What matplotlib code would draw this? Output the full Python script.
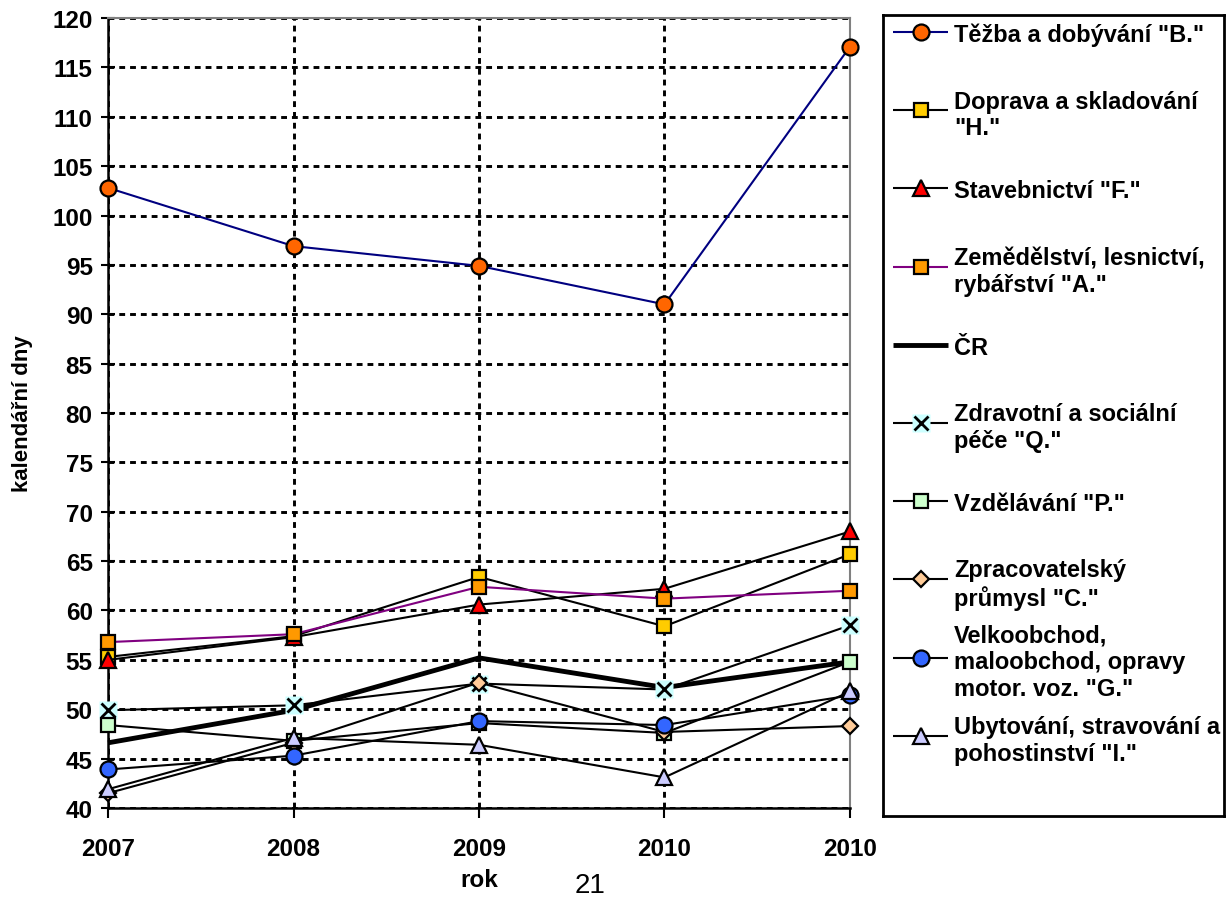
import matplotlib.pyplot as plt
import numpy as np

plt.rcParams['font.family'] = ['Liberation Sans', 'DejaVu Sans']
plt.rcParams['font.weight'] = 'bold'

years = ['2007', '2008', '2009', '2010', '2010']

tezba = [102.8, 96.9, 94.9, 91.0, 117.1]
doprava = [55.3, 57.4, 63.4, 58.4, 65.7]
stavebnictvi = [55.0, 57.3, 60.6, 62.2, 68.0]
zemedelstvi = [56.8, 57.6, 62.4, 61.2, 62.0]
cr = [46.6, 49.9, 55.2, 52.2, 54.8]
zdravotni = [49.9, 50.4, 52.6, 52.0, 58.5]
vzdelavani = [48.4, 46.8, 48.6, 47.6, 54.8]
zpracovatelsky = [41.5, 46.6, 52.7, 47.7, 48.3]
velkoobchod = [43.9, 45.3, 48.8, 48.4, 51.4]
ubytovani = [41.9, 47.1, 46.4, 43.1, 51.8]

labels = ['Těžba a dobývání "B."',
          'Doprava a skladování\n"H."',
          'Stavebnictví "F."',
          'Zemědělství, lesnictví,\nrybářství "A."',
          'ČR',
          'Zdravotní a sociální\npéče "Q."',
          'Vzdělávání "P."',
          'Zpracovatelský\nprůmysl "C."',
          'Velkoobchod,\nmaloobchod, opravy\nmotor. voz. "G."',
          'Ubytování, stravování a\npohostinství "I."']

# line colour, line width, marker, marker size, marker face
styles = [
    ('#000080', 1.5, 'o', 11.5, '#FF6600'),
    ('black', 1.5, 's', 10.5, '#FFCC00'),
    ('black', 1.5, '^', 12, '#FF0000'),
    ('#800080', 1.5, 's', 10.5, '#FF9900'),
    ('black', 3.5, None, 0, 'none'),
    ('black', 1.5, 'x', 9.5, '#CCFFFF'),
    ('black', 1.5, 's', 10.5, '#CCFFCC'),
    ('black', 1.5, 'D', 8, '#FFCC99'),
    ('black', 1.5, 'o', 11.5, '#3366FF'),
    ('black', 1.5, '^', 12, '#CCCCFF'),
]
series = [tezba, doprava, stavebnictvi, zemedelstvi, cr, zdravotni,
          vzdelavani, zpracovatelsky, velkoobchod, ubytovani]

fig = plt.figure(figsize=(12.28, 9.04), dpi=100)
ax = fig.add_axes([0.08795, 0.10509, 0.60423, 0.87389])
x = np.arange(len(years))


def draw(a, xs, ys, st, z, every=None):
    color, lw, m, ms, face = st
    a.plot(xs, ys, color=color, lw=lw, zorder=z, solid_capstyle='butt',
           clip_on=False)
    if m == 'x':
        # cross marker sits on a pale square
        a.plot(xs, ys, ls='none', marker='s', ms=ms + 3, mfc=face,
               mec='none', zorder=z + 0.1, clip_on=False, markevery=every)
        a.plot(xs, ys, ls='none', marker='x', ms=ms, mew=2, mec='black',
               zorder=z + 0.2, clip_on=False, markevery=every)
    elif m is not None:
        a.plot(xs, ys, ls='none', marker=m, ms=ms, mfc=face, mec='black',
               mew=1.6, zorder=z + 0.1, clip_on=False, markevery=every)


for i, (ys, st) in enumerate(zip(series, styles)):
    draw(ax, x, ys, st, 3 + i)

ax.set_xlim(0, 4)
ax.set_ylim(40, 120)
ax.set_xticks(x)
ax.set_xticklabels(years)
ax.set_yticks(np.arange(40, 121, 5))
ax.tick_params(axis='y', direction='inout', length=10, width=1.5,
               labelsize=17.5, pad=6)
ax.tick_params(axis='x', direction='out', length=7, width=1.5,
               labelsize=17.5, pad=14)
for lab in ax.get_xticklabels() + ax.get_yticklabels():
    lab.set_fontweight('bold')

ax.grid(True, color='black', lw=2.1, ls=(0, (2.0, 1.7)), zorder=1)
ax.spines['left'].set_linewidth(1.8)
ax.spines['bottom'].set_linewidth(1.8)
ax.spines['top'].set_color('#808080')
ax.spines['right'].set_color('#808080')
ax.spines['top'].set_linewidth(1.5)
ax.spines['right'].set_linewidth(1.5)

ax.set_xlabel('rok', fontsize=17.5, fontweight='bold', labelpad=6)
ax.set_ylabel('kalendářní dny', fontsize=16, fontweight='bold', labelpad=14)

fig.text(0.4805, 0.02, '21', fontsize=20, fontweight='normal',
         ha='center', va='center')

# legend box drawn in its own axes, pixel units from top-left corner
lax = fig.add_axes([0.7191, 0.09624, 0.2777, 0.8861])
lax.set_xlim(0, 341)
lax.set_ylim(801, 0)
lax.set_xticks([])
lax.set_yticks([])
for s in lax.spines.values():
    s.set_linewidth(2)
    s.set_color('black')

for i, (lab, st) in enumerate(zip(labels, styles)):
    yy = 17 + i * 78.2
    draw(lax, [10, 38, 65], [yy, yy, yy], st, 3, every=[1])
    lax.text(71, yy, lab, fontsize=17, fontweight='bold',
             va='center_baseline', ha='left', linespacing=1.2)

fig.savefig('out.png', dpi=100)
